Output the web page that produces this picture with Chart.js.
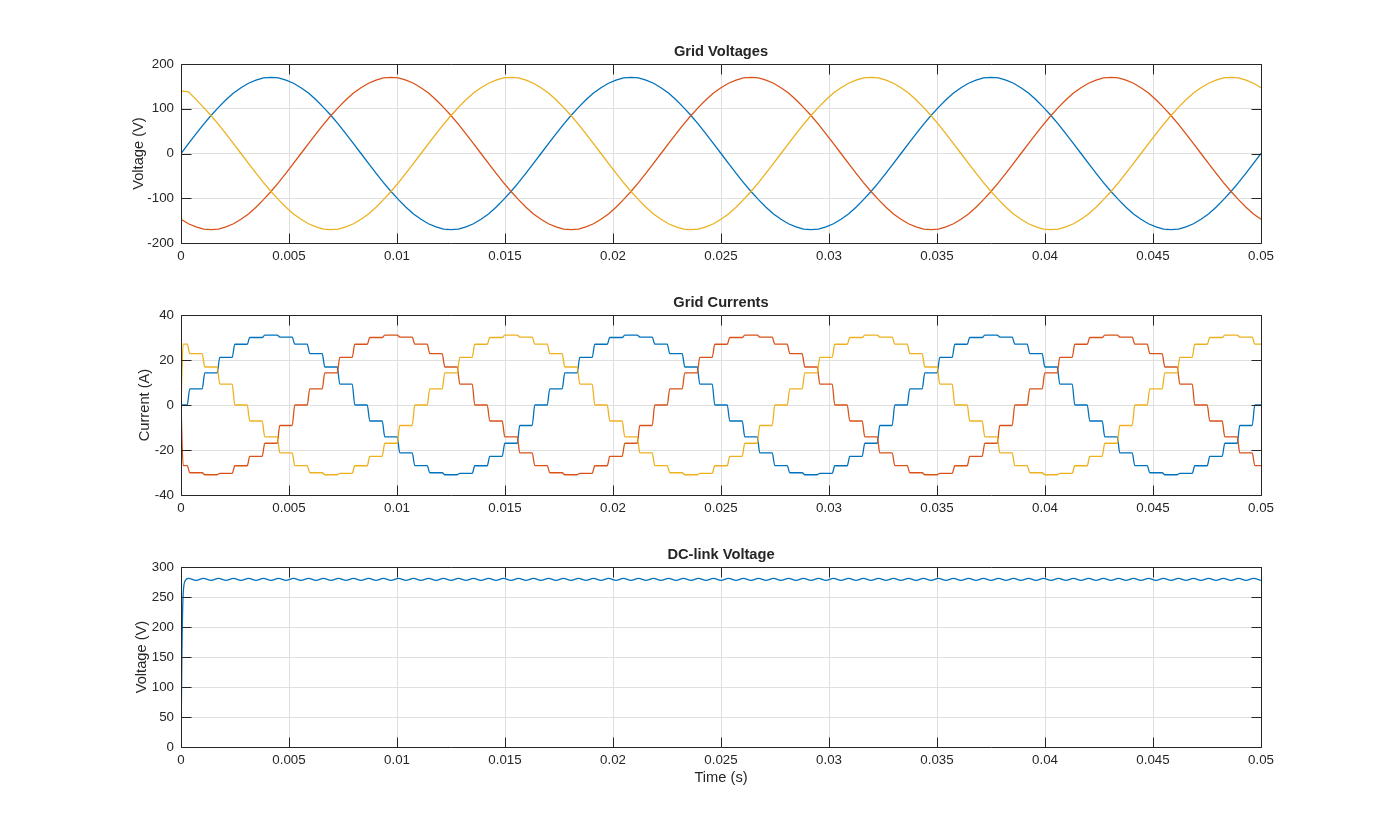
<!DOCTYPE html>
<html>
<head>
<meta charset="utf-8">
<title>Grid voltages, grid currents and DC-link voltage</title>
<script src="https://cdn.jsdelivr.net/npm/chart.js@4.4.1/dist/chart.umd.min.js"></script>
<style>
  html, body { margin: 0; background: #ffffff; }
  body { position: relative; width: 1394px; height: 840px; overflow: hidden; }
  canvas { position: absolute; left: 0; }
</style>
</head>
<body>
<canvas id="voltages" width="1394" height="245" style="top:30px"></canvas>
<canvas id="currents" width="1394" height="245" style="top:281px"></canvas>
<canvas id="dclink" width="1394" height="267" style="top:533px"></canvas>
<script>
// sample times (s), half a converter step apart
const tHalf = [
  0, 0.000347, 0.000694, 0.001042, 0.001389, 0.001736, 0.002083, 0.002431, 0.002778, 0.003125,
  0.003472, 0.003819, 0.004167, 0.004514, 0.004861, 0.005208, 0.005556, 0.005903, 0.00625, 0.006597,
  0.006944, 0.007292, 0.007639, 0.007986, 0.008333, 0.008681, 0.009028, 0.009375, 0.009722, 0.010069,
  0.010417, 0.010764, 0.011111, 0.011458, 0.011806, 0.012153, 0.0125, 0.012847, 0.013194, 0.013542,
  0.013889, 0.014236, 0.014583, 0.014931, 0.015278, 0.015625, 0.015972, 0.016319, 0.016667, 0.017014,
  0.017361, 0.017708, 0.018056, 0.018403, 0.01875, 0.019097, 0.019444, 0.019792, 0.020139, 0.020486,
  0.020833, 0.021181, 0.021528, 0.021875, 0.022222, 0.022569, 0.022917, 0.023264, 0.023611, 0.023958,
  0.024306, 0.024653, 0.025, 0.025347, 0.025694, 0.026042, 0.026389, 0.026736, 0.027083, 0.027431,
  0.027778, 0.028125, 0.028472, 0.028819, 0.029167, 0.029514, 0.029861, 0.030208, 0.030556, 0.030903,
  0.03125, 0.031597, 0.031944, 0.032292, 0.032639, 0.032986, 0.033333, 0.033681, 0.034028, 0.034375,
  0.034722, 0.035069, 0.035417, 0.035764, 0.036111, 0.036458, 0.036806, 0.037153, 0.0375, 0.037847,
  0.038194, 0.038542, 0.038889, 0.039236, 0.039583, 0.039931, 0.040278, 0.040625, 0.040972, 0.041319,
  0.041667, 0.042014, 0.042361, 0.042708, 0.043056, 0.043403, 0.04375, 0.044097, 0.044444, 0.044792,
  0.045139, 0.045486, 0.045833, 0.046181, 0.046528, 0.046875, 0.047222, 0.047569, 0.047917, 0.048264,
  0.048611, 0.048958, 0.049306, 0.049653, 0.05
];

// grid voltages (V) at tHalf
const vA = [
  0, 22, 44, 65, 85, 103, 120, 135, 147, 157, 164, 169, 170, 169, 164, 157, 147, 135, 120, 103, 85, 65, 44, 22,
  0, -22, -44, -65, -85, -103, -120, -135, -147, -157, -164, -169, -170, -169, -164, -157, -147, -135, -120, -103, -85, -65, -44, -22,
  0, 22, 44, 65, 85, 103, 120, 135, 147, 157, 164, 169, 170, 169, 164, 157, 147, 135, 120, 103, 85, 65, 44, 22,
  0, -22, -44, -65, -85, -103, -120, -135, -147, -157, -164, -169, -170, -169, -164, -157, -147, -135, -120, -103, -85, -65, -44, -22,
  0, 22, 44, 65, 85, 103, 120, 135, 147, 157, 164, 169, 170, 169, 164, 157, 147, 135, 120, 103, 85, 65, 44, 22,
  0, -22, -44, -65, -85, -103, -120, -135, -147, -157, -164, -169, -170, -169, -164, -157, -147, -135, -120, -103, -85, -65, -44, -22,
  0
];
const vB = [
  -147, -157, -164, -169, -170, -169, -164, -157, -147, -135, -120, -103, -85, -65, -44, -22, 0, 22, 44, 65, 85, 103, 120, 135,
  147, 157, 164, 169, 170, 169, 164, 157, 147, 135, 120, 103, 85, 65, 44, 22, 0, -22, -44, -65, -85, -103, -120, -135,
  -147, -157, -164, -169, -170, -169, -164, -157, -147, -135, -120, -103, -85, -65, -44, -22, 0, 22, 44, 65, 85, 103, 120, 135,
  147, 157, 164, 169, 170, 169, 164, 157, 147, 135, 120, 103, 85, 65, 44, 22, 0, -22, -44, -65, -85, -103, -120, -135,
  -147, -157, -164, -169, -170, -169, -164, -157, -147, -135, -120, -103, -85, -65, -44, -22, 0, 22, 44, 65, 85, 103, 120, 135,
  147, 157, 164, 169, 170, 169, 164, 157, 147, 135, 120, 103, 85, 65, 44, 22, 0, -22, -44, -65, -85, -103, -120, -135,
  -147
];
const vC = [
  140, 138, 121, 103, 85, 65, 44, 22, 0, -22, -44, -65, -85, -103, -120, -135, -147, -157, -164, -169, -170, -169, -164, -157,
  -147, -135, -120, -103, -85, -65, -44, -22, 0, 22, 44, 65, 85, 103, 120, 135, 147, 157, 164, 169, 170, 169, 164, 157,
  147, 135, 120, 103, 85, 65, 44, 22, 0, -22, -44, -65, -85, -103, -120, -135, -147, -157, -164, -169, -170, -169, -164, -157,
  -147, -135, -120, -103, -85, -65, -44, -22, 0, 22, 44, 65, 85, 103, 120, 135, 147, 157, 164, 169, 170, 169, 164, 157,
  147, 135, 120, 103, 85, 65, 44, 22, 0, -22, -44, -65, -85, -103, -120, -135, -147, -157, -164, -169, -170, -169, -164, -157,
  -147, -135, -120, -103, -85, -65, -44, -22, 0, 22, 44, 65, 85, 103, 120, 135, 147, 157, 164, 169, 170, 169, 164, 157,
  147
];

// grid currents (A): one level per step, step k centred on tHalf[2k]
const iA = [
  0, 7.2, 14.3, 21.2, 27, 30, 31.1, 30.2, 27.1, 22.8, 16.9, 9.3, 0, -7.1, -14.2, -21.3, -26.9, -30.1, -31, -30.4, -27, -22.8, -17, -9.1,
  0, 7.2, 14.3, 21.2, 27, 30, 31.1, 30.2, 27.1, 22.8, 16.9, 9.3, 0, -7.1, -14.2, -21.3, -26.9, -30.1, -31, -30.4, -27, -22.8, -17, -9.1,
  0, 7.2, 14.3, 21.2, 27, 30, 31.1, 30.2, 27.1, 22.8, 16.9, 9.3, 0, -7.1, -14.2, -21.3, -26.9, -30.1, -31, -30.4, -27, -22.8, -17, -9.1,
  0
];
const iB = [
  -26.9, -30.1, -31, -30.4, -27, -22.8, -17, -9.1, 0, 7.2, 14.3, 21.2, 27, 30, 31.1, 30.2, 27.1, 22.8, 16.9, 9.3, 0, -7.1, -14.2, -21.3,
  -26.9, -30.1, -31, -30.4, -27, -22.8, -17, -9.1, 0, 7.2, 14.3, 21.2, 27, 30, 31.1, 30.2, 27.1, 22.8, 16.9, 9.3, 0, -7.1, -14.2, -21.3,
  -26.9, -30.1, -31, -30.4, -27, -22.8, -17, -9.1, 0, 7.2, 14.3, 21.2, 27, 30, 31.1, 30.2, 27.1, 22.8, 16.9, 9.3, 0, -7.1, -14.2, -21.3,
  -26.9
];
const iC = [
  27.1, 22.8, 16.9, 9.3, 0, -7.1, -14.2, -21.3, -26.9, -30.1, -31, -30.4, -27, -22.8, -17, -9.1, 0, 7.2, 14.3, 21.2, 27, 30, 31.1, 30.2,
  27.1, 22.8, 16.9, 9.3, 0, -7.1, -14.2, -21.3, -26.9, -30.1, -31, -30.4, -27, -22.8, -17, -9.1, 0, 7.2, 14.3, 21.2, 27, 30, 31.1, 30.2,
  27.1, 22.8, 16.9, 9.3, 0, -7.1, -14.2, -21.3, -26.9, -30.1, -31, -30.4, -27, -22.8, -17, -9.1, 0, 7.2, 14.3, 21.2, 27, 30, 31.1, 30.2,
  27.1
];

// dc-link voltage (V): start-up, then ripple at tHalf[1..]
const dcRiseT = [0, 0.00004, 0.0001, 0.0002];
const dcRiseV = [0, 150, 255, 277.5];
const dcV = [
  281, 277.8, 281, 277.8, 281, 277.8, 281, 277.8, 281, 277.8, 281, 277.8, 281, 277.8, 281, 277.8, 281, 277.8, 281, 277.8, 281, 277.8, 281, 277.8,
  281, 277.8, 281, 277.8, 281, 277.8, 281, 277.8, 281, 277.8, 281, 277.8, 281, 277.8, 281, 277.8, 281, 277.8, 281, 277.8, 281, 277.8, 281, 277.8,
  281, 277.8, 281, 277.8, 281, 277.8, 281, 277.8, 281, 277.8, 281, 277.8, 281, 277.8, 281, 277.8, 281, 277.8, 281, 277.8, 281, 277.8, 281, 277.8,
  281, 277.8, 281, 277.8, 281, 277.8, 281, 277.8, 281, 277.8, 281, 277.8, 281, 277.8, 281, 277.8, 281, 277.8, 281, 277.8, 281, 277.8, 281, 277.8,
  281, 277.8, 281, 277.8, 281, 277.8, 281, 277.8, 281, 277.8, 281, 277.8, 281, 277.8, 281, 277.8, 281, 277.8, 281, 277.8, 281, 277.8, 281, 277.8,
  281, 277.8, 281, 277.8, 281, 277.8, 281, 277.8, 281, 277.8, 281, 277.8, 281, 277.8, 281, 277.8, 281, 277.8, 281, 277.8, 281, 277.8, 281, 277.8
];

// axes ticks
const xTicks = [0, 0.005, 0.01, 0.015, 0.02, 0.025, 0.03, 0.035, 0.04, 0.045, 0.05];
const xTickLabels = ['0', '0.005', '0.01', '0.015', '0.02', '0.025', '0.03', '0.035', '0.04', '0.045', '0.05'];
const vTicks = [-200, -100, 0, 100, 200];
const vTickLabels = ['-200', '-100', '0', '100', '200'];
const iTicks = [-40, -20, 0, 20, 40];
const iTickLabels = ['-40', '-20', '0', '20', '40'];
const dcTicks = [0, 50, 100, 150, 200, 250, 300];
const dcTickLabels = ['0', '50', '100', '150', '200', '250', '300'];

const BLUE = '#0072bd', ORANGE = '#d95319', YELLOW = '#edb120';
const INK = '#262626', GRID = '#dfdfdf';
const TICK_LEN = 10;
const RAMP = 0.00006;

Chart.defaults.font.family = '"Liberation Sans", Arial, Helvetica, sans-serif';

function samples(values) {
  return [{ x: 0, y: 0 }].concat(tHalf.map((t, j) => ({ x: t, y: values[j] })));
}

// each level holds from one step edge to the next
function stairs(levels) {
  const last = levels.length - 1;
  const pts = [{ x: 0, y: 0 }];
  levels.forEach((level, k) => {
    const from = k === 0 ? 0.0001 : tHalf[2 * k - 1] + RAMP;
    const to = k === last ? tHalf[2 * k] : tHalf[2 * k + 1] - RAMP;
    pts.push({ x: from, y: level }, { x: to, y: level });
  });
  return pts;
}

function line(data, color, order, smooth) {
  return {
    data: data,
    borderColor: color,
    borderWidth: 1.3,
    pointRadius: 0,
    fill: false,
    order: order,
    cubicInterpolationMode: smooth ? 'monotone' : 'default',
    tension: 0
  };
}

// box round the plot area with inward ticks on all four sides
const matlabBox = {
  id: 'matlabBox',
  afterDatasetsDraw(chart) {
    const { ctx, chartArea: a, scales: { x, y } } = chart;
    const snap = v => Math.round(v) + 0.5;
    const L = snap(a.left), R = snap(a.right), T = snap(a.top), B = snap(a.bottom);
    ctx.save();
    ctx.strokeStyle = INK;
    ctx.lineWidth = 1;
    ctx.beginPath();
    x.ticks.forEach(t => {
      const px = snap(x.getPixelForValue(t.value));
      ctx.moveTo(px, B); ctx.lineTo(px, B - TICK_LEN);
      ctx.moveTo(px, T); ctx.lineTo(px, T + TICK_LEN);
    });
    y.ticks.forEach(t => {
      const py = snap(y.getPixelForValue(t.value));
      ctx.moveTo(L, py); ctx.lineTo(L + TICK_LEN, py);
      ctx.moveTo(R, py); ctx.lineTo(R - TICK_LEN, py);
    });
    ctx.rect(L, T, R - L, B - T);
    ctx.stroke();
    ctx.restore();
  }
};

function panel(id, p) {
  return new Chart(document.getElementById(id), {
    type: 'line',
    data: { datasets: p.datasets },
    options: {
      responsive: false,
      animation: false,
      events: [],
      layout: { padding: { left: 0, right: 133, top: 0, bottom: 0 } },
      plugins: {
        legend: { display: false },
        tooltip: { enabled: false },
        title: {
          display: true,
          text: p.title,
          fullSize: false,
          color: INK,
          font: { size: 14.67, weight: 'bold' },
          padding: { top: 13.2, bottom: 3.2 }
        }
      },
      scales: {
        x: {
          type: 'linear',
          min: 0,
          max: 0.05,
          grid: { color: GRID, drawTicks: false },
          border: { display: false },
          ticks: {
            color: INK,
            font: { size: 13.33 },
            padding: 5.5,
            autoSkip: false,
            maxRotation: 0,
            callback: (v, i) => xTickLabels[i]
          },
          afterBuildTicks: s => { s.ticks = xTicks.map(v => ({ value: v })); },
          afterFit: s => { s.height = p.xHeight; s.paddingLeft = 0; s.paddingRight = 0; },
          title: p.xTitle
            ? { display: true, text: p.xTitle, color: INK, font: { size: 14.67 }, padding: { top: 0, bottom: 13.7 } }
            : { display: false }
        },
        y: {
          type: 'linear',
          min: p.yTicks[0],
          max: p.yTicks[p.yTicks.length - 1],
          grid: { color: GRID, drawTicks: false },
          border: { display: false },
          ticks: {
            color: INK,
            font: { size: 13.33 },
            padding: 7,
            callback: (v, i) => p.yTickLabels[i]
          },
          afterBuildTicks: s => { s.ticks = p.yTicks.map(v => ({ value: v })); },
          afterFit: s => { s.width = 181; s.paddingTop = 0; s.paddingBottom = 0; },
          title: {
            display: true,
            text: p.yTitle,
            color: INK,
            font: { size: 14.67 },
            padding: { top: p.yTitleX - 8.8, bottom: 0 }
          }
        }
      }
    },
    plugins: [matlabBox]
  });
}

panel('voltages', {
  title: 'Grid Voltages',
  yTitle: 'Voltage (V)',
  yTitleX: 138.5,
  yTicks: vTicks,
  yTickLabels: vTickLabels,
  xHeight: 32,
  datasets: [
    line(samples(vA), BLUE, 3, false),
    line(samples(vB), ORANGE, 2, false),
    line(samples(vC), YELLOW, 1, false)
  ]
});

panel('currents', {
  title: 'Grid Currents',
  yTitle: 'Current (A)',
  yTitleX: 144.5,
  yTicks: iTicks,
  yTickLabels: iTickLabels,
  xHeight: 31,
  datasets: [
    line(stairs(iA), BLUE, 3, true),
    line(stairs(iB), ORANGE, 2, true),
    line(stairs(iC), YELLOW, 1, true)
  ]
});

panel('dclink', {
  title: 'DC-link Voltage',
  yTitle: 'Voltage (V)',
  yTitleX: 142,
  yTicks: dcTicks,
  yTickLabels: dcTickLabels,
  xHeight: 53,
  xTitle: 'Time (s)',
  datasets: [
    line(dcRiseT.map((t, j) => ({ x: t, y: dcRiseV[j] }))
      .concat(tHalf.slice(1).map((t, j) => ({ x: t, y: dcV[j] }))), BLUE, 1, true)
  ]
});
</script>
</body>
</html>
